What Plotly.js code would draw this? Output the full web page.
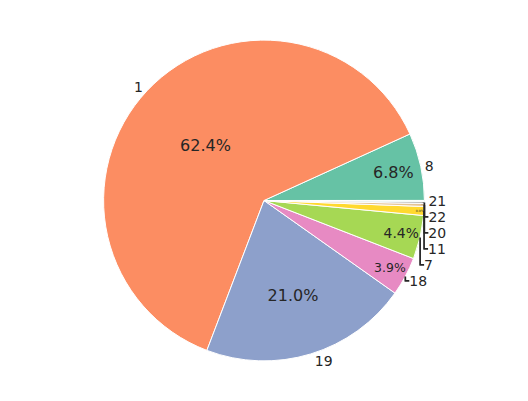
<!DOCTYPE html>
<html>
<head>
<script src="https://cdn.plot.ly/plotly-3.0.1.min.js"></script>
<style>body{margin:0}</style>
</head>
<body>
<div id="chart" style="width:528px;height:401px"></div>
<script>
const labels = ["8", "1", "19", "18", "7", "11", "20", "22", "21"];
const values = [6.8, 62.4, 21.0, 3.9, 4.4, 0.9, 0.3, 0.2, 0.1];
const colors = ["#66c2a5", "#fc8d62", "#8da0cb", "#e78ac3", "#a6d854", "#ffd92f", "#e5c494", "#b3b3b3", "#66c2a5"];

const common = {
    type: "pie",
    labels: labels,
    values: values,
    sort: false,
    direction: "counterclockwise",
    rotation: 65.5,
    domain: {x: [0.1, 0.9], y: [0.1, 0.9]},
    showlegend: false,
    hoverinfo: "none"
};

const inner = Object.assign({}, common, {
    marker: {colors: colors, line: {color: "#ffffff", width: 1}},
    texttemplate: "%{percent:.1%}",
    textposition: "inside",
    insidetextorientation: "horizontal",
    insidetextfont: {size: 16, color: "#262626"}
});

const outer = Object.assign({}, common, {
    marker: {colors: labels.map(() => "rgba(0,0,0,0)")},
    textinfo: "label",
    textposition: "outside",
    outsidetextfont: {size: 14, color: "#262626"}
});

const layout = {
    width: 528,
    height: 401,
    margin: {l: 0, r: 0, t: 0, b: 0},
    font: {family: "DejaVu Sans", color: "#262626"},
    paper_bgcolor: "#ffffff"
};

Plotly.newPlot("chart", [inner, outer], layout, {displayModeBar: false});
</script>
</body>
</html>
